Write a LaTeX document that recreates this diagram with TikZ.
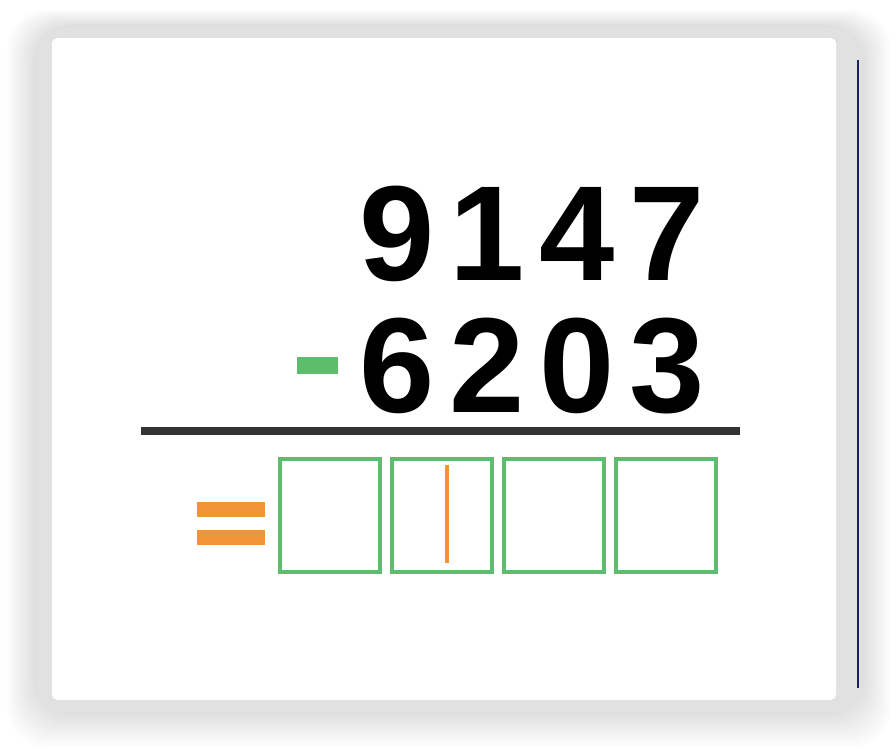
\documentclass[tikz,border=0pt]{standalone}
\usepackage{fontspec}
\setmainfont{Liberation Sans}
\usepackage{xcolor}
\definecolor{boxgreen}{HTML}{5DBD6D}
\definecolor{eqorange}{HTML}{F0943A}
\definecolor{rulegray}{HTML}{333333}
\definecolor{panelgray}{HTML}{E1E1E1}
\definecolor{edgenavy}{HTML}{1A2260}
\tikzset{digit/.style={anchor=base,inner sep=0pt,font=\fontsize{77}{80}\selectfont\bfseries},
 answer/.style={draw=boxgreen,line width=1.9pt,minimum width=2.0cm,minimum height=2.26cm,inner sep=0pt},
 bar/.style={fill=eqorange},
 }
\usetikzlibrary{positioning}

\begin{document}
\begin{tikzpicture}[x=0.02cm,y=-0.02cm]
        \useasboundingbox (0,0) rectangle (896,748);
        \foreach \s in {1,...,16} {
            \fill[black, opacity=0.009, rounded corners=22pt] (36-1.8*\s,26-1*\s) rectangle (862+1.8*\s,712+2.2*\s);
        }
        \fill[panelgray, rounded corners=17pt] (36,28) rectangle (862,712);
        \fill[white, rounded corners=3pt] (52,38) rectangle (836,700);
        \draw[edgenavy, line width=0.8pt] (858,60) -- (858,688);
        \foreach \d[count=\i] in {9, 1, 4, 7} {
            \node[digit] (top\i) at (307+90*\i, 280) {\d};
        }
        \foreach \d[count=\i] in {6, 2, 0, 3} {
            \node[digit] (bot\i) at (307+90*\i, 412) {\d};
        }
        \fill[boxgreen] (297, 357) rectangle (338, 374);
        \fill[rulegray] (141, 427) rectangle (740, 435);
        \foreach \i in {1,...,4} {
            \node[answer] (box\i) at (218+112*\i, 515.5) {};
        }
        \fill[bar] (197, 502) rectangle (265, 517);
        \fill[bar] (197, 530) rectangle (265, 545);
        \draw[eqorange, line width=2.2pt] (447, 465) -- (447, 563);
    \end{tikzpicture}
\end{document}
